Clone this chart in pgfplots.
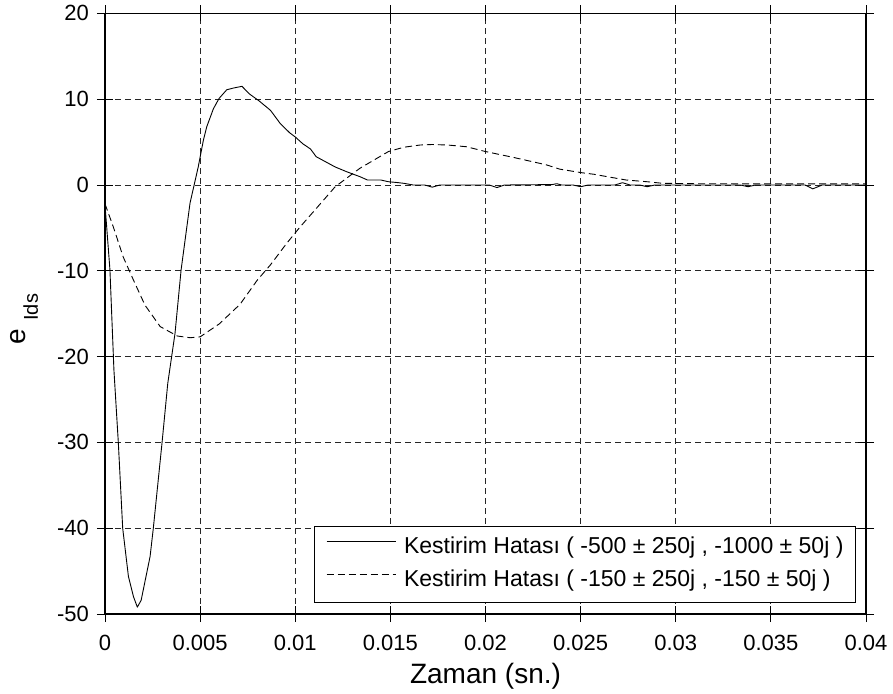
\documentclass[border=0pt]{standalone}
\usepackage{fontspec}
\setmainfont{Liberation Sans}
\usepackage{pgfplots}
\pgfplotsset{compat=1.18}

% solid: poles (-500 +- 250j, -1000 +- 50j)
\pgfplotstableread{
x y
0 -2.3
0.00026 -9.9
0.00047 -21.6
0.0007 -30
0.00093 -40
0.00123 -45.6
0.0015 -48
0.0017 -49.2
0.0019 -48.4
0.00237 -43.3
0.00254 -40
0.003 -30
0.0033 -23.1
0.00368 -17.3
0.004 -9.9
0.00447 -2.1
0.0049 2.1
0.00517 5.2
0.00535 6.8
0.0057 8.9
0.006 10.1
0.0064 11.1
0.00675 11.3
0.0072 11.5
0.0076 10.6
0.0081 9.8
0.0087 8.7
0.0092 7.2
0.0097 6.1
0.01 5.6
0.0104 4.8
0.0108 4.2
0.0111 3.3
0.0116 2.7
0.0121 2.1
0.0127 1.55
0.0134 0.97
0.0138 0.58
0.0145 0.58
0.0149 0.38
0.0153 0.3
0.0157 0.2
0.0162 0.0
0.0168 0.0
0.0172 -0.25
0.0176 0.0
0.0202 0.0
0.0206 -0.3
0.021 0.0
0.0235 0.05
0.02375 0.15
0.024 0.0
0.0246 0.0
0.025 -0.2
0.0254 0.0
0.0268 0.0
0.0272 0.27
0.0276 0.0
0.0281 0.0
0.0285 -0.2
0.0289 0.0
0.0334 0.0
0.0338 -0.2
0.0342 0.0
0.0368 0.0
0.0372 -0.45
0.0377 0.0
0.04 0.0
}\fastdata

% dashed: poles (-150 +- 250j, -150 +- 50j)
\pgfplotstableread{
x y
0 -2.2
0.00044 -4.9
0.00096 -8.4
0.0015 -11.1
0.0021 -14.0
0.0029 -16.5
0.0038 -17.6
0.00447 -17.8
0.005 -17.7
0.006 -16.2
0.0071 -13.9
0.008 -11.1
0.0087 -9.3
0.00955 -6.8
0.01025 -4.9
0.011 -3.0
0.01157 -1.55
0.0121 -0.2
0.0134 1.95
0.0149 3.9
0.0157 4.4
0.01656 4.66
0.0172 4.72
0.018 4.66
0.019 4.46
0.02 3.9
0.0215 3.2
0.0232 2.35
0.0239 1.85
0.025 1.45
0.0257 1.25
0.0264 0.97
0.0274 0.58
0.0285 0.38
0.0293 0.2
0.031 0.15
0.035 0.13
0.04 0.13
}\slowdata

\begin{document}
\begin{tikzpicture}
\useasboundingbox (-105bp,-80bp) rectangle (788bp,614bp);
\begin{axis}[
  at={(0,0)}, anchor=south west,
  scale only axis, width=761bp, height=600.6bp,
  xmin=0, xmax=0.04, ymin=-50, ymax=20,
  xtick={0,0.005,0.01,0.015,0.02,0.025,0.03,0.035,0.04},
  xticklabels={0,0.005,0.01,0.015,0.02,0.025,0.03,0.035,0.04},
  scaled x ticks=false,
  ytick={-50,-40,-30,-20,-10,0,10,20},
  yticklabels={-50,-40,-30,-20,-10,0,10,20},
  tick align=center, major tick length=16bp,
  tick style={black, line width=0.8bp},
  axis line style={black, line width=1.2bp},
  grid=major,
  major grid style={black!85, line width=0.9bp, dash pattern=on 6bp off 4bp},
  tick label style={font=\fontsize{22bp}{26bp}\selectfont, inner sep=0pt},
  xticklabel style={anchor=north, yshift=-13bp},
  yticklabel style={anchor=east, xshift=-8bp},
  every axis x label/.style={at={(rel axis cs:0.5,0)}, anchor=base, yshift=-69bp,
    font=\fontsize{28bp}{30bp}\selectfont},
  every axis y label/.style={at={(rel axis cs:0,0.491)}, xshift=-79bp, rotate=90, anchor=base},
  xlabel={Zaman (sn.)},
  ylabel={{\fontsize{28bp}{30bp}\selectfont e}\hspace{8bp}\raisebox{-12bp}{\fontsize{20bp}{22bp}\selectfont Ids}},
  legend style={at={(rel axis cs:1,0)}, anchor=south east, xshift=-10bp, yshift=11bp,
    draw=black, line width=1bp, fill=white, inner xsep=12bp, inner ysep=11bp,
    row sep=12bp, font=\fontsize{23bp}{26bp}\selectfont,
    nodes={inner sep=0pt, text height=16bp, text depth=5bp},
    /tikz/every odd column/.append style={column sep=8bp}},
  legend cell align=left,
  legend image code/.code={\draw[#1, line width=0.9bp] (0bp,7bp) -- (69bp,7bp);},
]
\addplot[black, line width=0.9bp, line join=round] table[x=x, y=y] {\fastdata};
\addlegendentry{Kestirim Hatası ( -500 ± 250j , -1000 ± 50j )}
\addplot[black, line width=0.9bp, dash pattern=on 7bp off 4bp] table[x=x, y=y] {\slowdata};
\addlegendentry{Kestirim Hatası ( -150 ± 250j , -150 ± 50j )}
\end{axis}
\end{tikzpicture}
\end{document}
